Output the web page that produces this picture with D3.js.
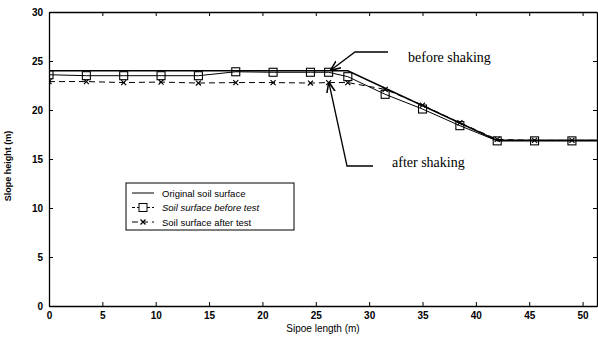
<!DOCTYPE html>
<meta charset="utf-8">
<style>
body { margin: 0; background: #fff; }
text { font-family: "Liberation Sans", Arial, sans-serif; }
</style>
<div id="chart"></div>
<script src="https://d3js.org/d3.v7.min.js"></script>
<script>

// Original soil surface (solid line, no markers)
var originalX = [0, 28, 42, 52];
var originalY = [24.0, 24.0, 16.9, 16.9];

// Soil surface before test (squares)
var beforeX = [0, 3.5, 7, 10.5, 14, 17.5, 21, 24.5, 26.2, 28, 31.5, 35, 38.5, 42, 45.5, 49, 52];
var beforeY = [23.6, 23.5, 23.5, 23.5, 23.5, 23.9, 23.85, 23.85, 23.85, 23.4, 21.6, 20.1, 18.4, 16.85, 16.85, 16.85, 16.85];

// Soil surface after test (dashed, x markers)
var afterX = [0, 3.5, 7, 10.5, 14, 17.5, 21, 24.5, 26.2, 28, 31.5, 35, 38.5, 42, 45.5, 49, 52];
var afterY = [22.9, 22.9, 22.8, 22.85, 22.75, 22.8, 22.8, 22.75, 22.8, 22.8, 22.1, 20.5, 18.7, 17.0, 16.9, 16.9, 16.9];

var xTicks = [0, 5, 10, 15, 20, 25, 30, 35, 40, 45, 50];
var yTicks = [0, 5, 10, 15, 20, 25, 30];

var width = 598, height = 338;
var margin = {top: 12, right: 1, bottom: 32, left: 49};

var svg = d3.select("#chart")
  .append("svg")
    .attr("width", width)
    .attr("height", height);

//Scales
var x = d3.scaleLinear()
  .domain([0, 51.35])
  .range([margin.left, width - margin.right]);
var y = d3.scaleLinear()
  .domain([0, 30])
  .range([height - margin.bottom, margin.top]);

svg.append("clipPath")
  .attr("id", "clip")
  .append("rect")
    .attr("x", margin.left)
    .attr("y", margin.top)
    .attr("width", width - margin.right - margin.left)
    .attr("height", height - margin.bottom - margin.top);

//Axes with inward ticks
svg.append("g")
  .attr("transform", "translate(0," + y(0) + ")")
  .call(d3.axisBottom(x).tickValues(xTicks).tickSizeInner(-4).tickSizeOuter(0).tickPadding(6))
  .call(g => g.selectAll("text").style("font-size", "10px").style("font-weight", "bold"));
svg.append("g")
  .attr("transform", "translate(0," + y(30) + ")")
  .call(d3.axisTop(x).tickValues(xTicks).tickSizeInner(-4).tickSizeOuter(0).tickFormat(""));
svg.append("g")
  .attr("transform", "translate(" + x(0) + ",0)")
  .call(d3.axisLeft(y).tickValues(yTicks).tickSizeInner(-4).tickSizeOuter(0).tickPadding(6))
  .call(g => g.selectAll("text").style("font-size", "10px").style("font-weight", "bold"));
svg.append("g")
  .attr("transform", "translate(" + (width - margin.right) + ",0)")
  .call(d3.axisRight(y).tickValues(yTicks).tickSizeInner(-4).tickSizeOuter(0).tickFormat(""));
svg.selectAll(".domain").attr("stroke", "#000").attr("stroke-width", 1.3);

//Axis labels
svg.append("text")
  .attr("x", (x(0) + x(51.35)) / 2)
  .attr("y", 332)
  .attr("text-anchor", "middle")
  .style("font-size", "10px")
  .text("Sipoe length (m)");
svg.append("text")
  .attr("transform", "translate(11," + 166 + ")rotate(-90)")
  .attr("text-anchor", "middle")
  .style("font-size", "9px")
  .style("font-weight", "bold")
  .text("Slope height (m)");

var line = d3.line()
  .x(function(d) { return x(d[0]); })
  .y(function(d) { return y(d[1]); });

var plot = svg.append("g").attr("clip-path", "url(#clip)");

plot.append("path")
  .datum(d3.zip(originalX, originalY))
  .attr("d", line)
  .attr("fill", "none")
  .attr("stroke", "#000")
  .attr("stroke-width", 1.6);

plot.append("path")
  .datum(d3.zip(beforeX, beforeY))
  .attr("d", line)
  .attr("fill", "none")
  .attr("stroke", "#000")
  .attr("stroke-width", 1);

plot.append("path")
  .datum(d3.zip(afterX, afterY))
  .attr("d", line)
  .attr("fill", "none")
  .attr("stroke", "#000")
  .attr("stroke-width", 1)
  .attr("stroke-dasharray", "6,4");

//Square markers
plot.selectAll(".sq")
  .data(d3.zip(beforeX, beforeY))
  .enter().append("rect")
    .attr("x", function(d) { return x(d[0]) - 4; })
    .attr("y", function(d) { return y(d[1]) - 4; })
    .attr("width", 8)
    .attr("height", 8)
    .attr("fill", "none")
    .attr("stroke", "#000")
    .attr("stroke-width", 1.1);

//x markers
var cross = d3.symbol().type(d3.symbolX).size(18);
plot.selectAll(".xm")
  .data(d3.zip(afterX, afterY))
  .enter().append("path")
    .attr("d", cross)
    .attr("transform", function(d) { return "translate(" + x(d[0]) + "," + y(d[1]) + ")"; })
    .attr("fill", "none")
    .attr("stroke", "#000")
    .attr("stroke-width", 1.2);

//Legend
var leg = svg.append("g");
leg.append("rect")
  .attr("x", 126).attr("y", 183)
  .attr("width", 168).attr("height", 47)
  .attr("fill", "#fff")
  .attr("stroke", "#000")
  .attr("stroke-width", 1);
var legItems = [
  {label: "Original soil surface", dash: null, marker: null, italic: false},
  {label: "Soil surface before test", dash: "3,2", marker: "sq", italic: true},
  {label: "Soil surface after test", dash: "6,4", marker: "x", italic: false}
];
legItems.forEach(function(d, i) {
  var yy = 193 + i * 14.5;
  leg.append("line")
    .attr("x1", 132).attr("x2", 154)
    .attr("y1", yy).attr("y2", yy)
    .attr("stroke", "#000")
    .attr("stroke-width", 1)
    .attr("stroke-dasharray", d.dash);
  if (d.marker == "sq") {
    leg.append("rect")
      .attr("x", 139).attr("y", yy - 4)
      .attr("width", 8).attr("height", 8)
      .attr("fill", "#fff").attr("stroke", "#000");
  }
  if (d.marker == "x") {
    leg.append("path")
      .attr("d", cross)
      .attr("transform", "translate(143," + yy + ")")
      .attr("fill", "none").attr("stroke", "#000").attr("stroke-width", 1.2);
  }
  leg.append("text")
    .attr("x", 162)
    .attr("y", yy + 3.5)
    .style("font-size", "9.5px")
    .style("font-style", d.italic ? "italic" : "normal")
    .text(d.label);
});

//Annotations
svg.append("defs").append("marker")
  .attr("id", "arrow")
  .attr("viewBox", "0 0 10 10")
  .attr("refX", 9).attr("refY", 5)
  .attr("markerWidth", 8).attr("markerHeight", 8)
  .attr("orient", "auto")
  .append("path")
    .attr("d", "M0,1 L10,5 L0,9")
    .attr("fill", "none")
    .attr("stroke", "#000")
    .attr("stroke-width", 1.5);

svg.append("polyline")
  .attr("points", "388,52 355,52 331,70")
  .attr("fill", "none").attr("stroke", "#000").attr("stroke-width", 1.3)
  .attr("marker-end", "url(#arrow)");
svg.append("polyline")
  .attr("points", "373,166 347,166 329,83")
  .attr("fill", "none").attr("stroke", "#000").attr("stroke-width", 1.3)
  .attr("marker-end", "url(#arrow)");

svg.append("text")
  .attr("x", 408).attr("y", 62)
  .style("font-family", "'Liberation Serif', 'Times New Roman', serif")
  .style("font-size", "14px")
  .text("before shaking");
svg.append("text")
  .attr("x", 392).attr("y", 167)
  .style("font-family", "'Liberation Serif', 'Times New Roman', serif")
  .style("font-size", "14px")
  .text("after shaking");

</script>
